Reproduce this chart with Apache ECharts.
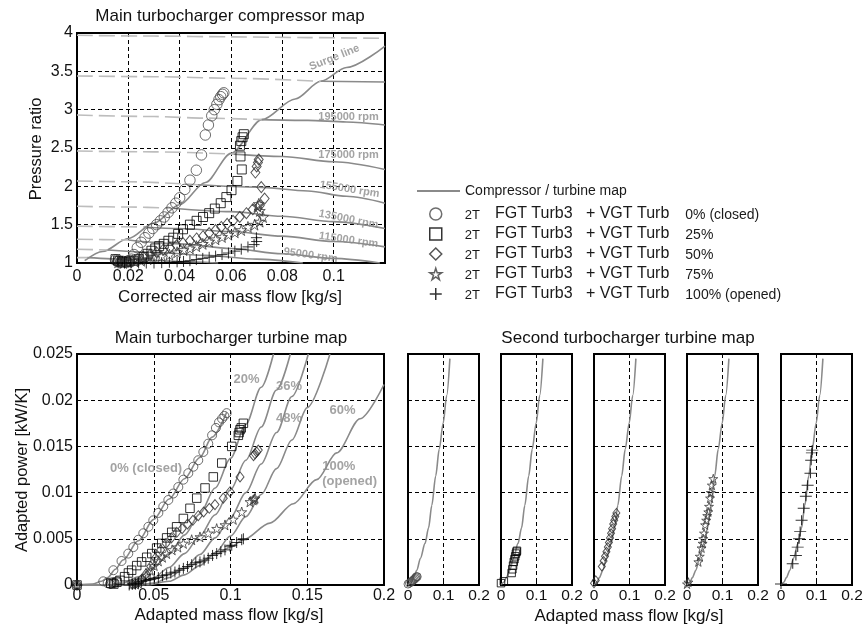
<!DOCTYPE html>
<html>
<head>
<meta charset="utf-8">
<script src="https://cdn.jsdelivr.net/npm/echarts@6/dist/echarts.min.js"></script>
<style>
  html, body { margin: 0; padding: 0; background: #fff; }
  #chart { width: 864px; height: 631px; }
</style>
</head>
<body>
<div id="chart"></div>
<script>
// ---------------- Compressor map: constant-speed lines [mass flow, pressure ratio] ----------------
const speedLine1  = [[0,3.97],[0.03,3.96],[0.06,3.95],[0.09,3.94],[0.12,3.93]];
const speedLine2  = [[0,3.44],[0.03,3.43],[0.06,3.41],[0.095,3.37],[0.12,3.36]];
const speedLine3  = [[0,2.93],[0.03,2.91],[0.05,2.89],[0.072,2.87],[0.09,2.86],[0.105,2.84],[0.12,2.80]];
const speedLine4  = [[0,2.46],[0.03,2.45],[0.061,2.42],[0.08,2.39],[0.1,2.32],[0.12,2.22]];
const speedLine5  = [[0,2.07],[0.02,2.06],[0.047,2.02],[0.07,1.99],[0.09,1.94],[0.105,1.87],[0.12,1.78]];
const speedLine6  = [[0,1.74],[0.02,1.73],[0.037,1.715],[0.06,1.67],[0.08,1.61],[0.1,1.54],[0.12,1.45]];
const speedLine7  = [[0,1.48],[0.026,1.47],[0.04,1.45],[0.06,1.41],[0.08,1.35],[0.1,1.28],[0.12,1.21]];
const speedLine8  = [[0,1.31],[0.02,1.30],[0.04,1.25],[0.06,1.19],[0.08,1.12],[0.1,1.06],[0.118,1.0]];
const speedLine9  = [[0,1.18],[0.012,1.17],[0.03,1.14],[0.05,1.10],[0.07,1.05],[0.088,1.0]];
const speedLine10 = [[0,1.07],[0.004,1.07],[0.02,1.05],[0.04,1.02],[0.055,1.0]];
const speedLines = [speedLine1, speedLine2, speedLine3, speedLine4, speedLine5,
                    speedLine6, speedLine7, speedLine8, speedLine9, speedLine10];
// mass flow where each speed line meets the surge line (left of it: unstable, drawn dashed)
const surgeCrossX = [0.12, 0.095, 0.072, 0.061, 0.047, 0.037, 0.026, 0.02, 0.012, 0.004];
const surgeLine = [[0.003,1.03],[0.01,1.15],[0.02,1.32],[0.03,1.52],[0.04,1.76],[0.05,2.05],
                   [0.06,2.43],[0.072,2.87],[0.085,3.14],[0.095,3.37],[0.105,3.55],[0.12,3.83]];
const rpmNames = ['Surge line', '195000 rpm', '175000 rpm', '155000 rpm', '135000 rpm', '115000 rpm', '95000 rpm'];

// ---------------- Compressor operating points per VGT opening ----------------
const compVgt0 = [[0.0150,1.04],[0.0160,1.02],[0.0170,1.01],[0.0180,1.02],[0.0190,1.01],[0.0200,1.03],[0.0212,1.05],
  [0.0222,1.11],[0.0235,1.20],[0.0250,1.27],[0.0265,1.33],[0.0280,1.39],[0.0295,1.45],[0.0310,1.50],[0.0325,1.55],
  [0.0340,1.60],[0.0355,1.66],[0.0370,1.72],[0.0385,1.78],[0.0400,1.85],[0.0420,1.96],[0.0440,2.08],[0.0465,2.21],
  [0.0485,2.41],[0.0500,2.67],[0.0512,2.80],[0.0525,2.92],[0.0535,3.00],[0.0545,3.07],[0.0553,3.13],[0.0560,3.17],
  [0.0567,3.20],[0.0572,3.22]];
const compVgt25 = [[0.0150,1.05],[0.0160,1.03],[0.0175,1.02],[0.0190,1.01],[0.0205,1.02],[0.0220,1.03],[0.0240,1.05],
  [0.0260,1.08],[0.0275,1.12],[0.0290,1.16],[0.0305,1.19],[0.0320,1.22],[0.0338,1.25],[0.0356,1.29],[0.0375,1.33],
  [0.0394,1.38],[0.0413,1.44],[0.0440,1.50],[0.0466,1.55],[0.0491,1.60],[0.0515,1.65],[0.0537,1.71],[0.0560,1.78],
  [0.0582,1.86],[0.0602,1.95],[0.0625,2.07],[0.0642,2.22],[0.0637,2.39],[0.0635,2.53],[0.0640,2.59],[0.0645,2.64],
  [0.0650,2.68]];
const compVgt50 = [[0.0155,1.02],[0.0170,1.01],[0.0185,1.01],[0.0200,1.02],[0.0215,1.03],[0.0235,1.05],[0.0258,1.08],
  [0.0285,1.11],[0.0310,1.14],[0.0335,1.17],[0.0362,1.20],[0.0388,1.23],[0.0413,1.26],[0.0440,1.29],[0.0466,1.32],
  [0.0491,1.35],[0.0515,1.39],[0.0540,1.43],[0.0562,1.47],[0.0585,1.51],[0.0608,1.55],[0.0634,1.60],[0.0660,1.65],
  [0.0685,1.70],[0.0712,1.75],[0.0731,1.84],[0.0718,1.99],[0.0695,2.18],[0.0700,2.26],[0.0705,2.31],[0.0708,2.35]];
const compVgt75 = [[0.0160,1.01],[0.0180,1.00],[0.0200,1.01],[0.0225,1.02],[0.0250,1.03],[0.0275,1.05],[0.0300,1.07],
  [0.0330,1.09],[0.0360,1.11],[0.0390,1.14],[0.0415,1.17],[0.0440,1.19],[0.0465,1.22],[0.0490,1.25],[0.0515,1.28],
  [0.0540,1.31],[0.0565,1.34],[0.0590,1.37],[0.0615,1.40],[0.0640,1.43],[0.0666,1.47],[0.0692,1.50],[0.0712,1.54],
  [0.0725,1.60],[0.0712,1.68],[0.0703,1.74],[0.0708,1.77]];
const compVgt100 = [[0.0160,1.00],[0.0185,1.00],[0.0210,1.00],[0.0240,1.00],[0.0270,1.00],[0.0300,1.00],[0.0330,1.005],
  [0.0360,1.01],[0.0390,1.015],[0.0415,1.02],[0.0440,1.03],[0.0465,1.045],[0.0490,1.06],[0.0515,1.075],[0.0540,1.09],
  [0.0565,1.11],[0.0590,1.13],[0.0615,1.155],[0.0640,1.18],[0.0666,1.21],[0.0690,1.24],[0.0700,1.28],[0.0699,1.33]];

// ---------------- Main turbine map: iso-opening curves [mass flow, power] ----------------
const turbMap0   = [[0,0],[0.010,0.0001],[0.016,0.0004],[0.020,0.0008],[0.025,0.0017],[0.030,0.0027],[0.040,0.0048],
  [0.050,0.0071],[0.060,0.0093],[0.070,0.0115],[0.080,0.0138],[0.088,0.0160],[0.0975,0.0187]];
const turbMap20  = [[0,0],[0.010,0],[0.020,0],[0.030,0.0002],[0.040,0.0009],[0.050,0.0019],[0.060,0.0034],[0.070,0.0054],
  [0.080,0.0077],[0.090,0.0105],[0.100,0.0137],[0.110,0.0174],[0.120,0.0214],[0.128,0.0250]];
const turbMap36  = [[0,0],[0.015,0],[0.030,0],[0.040,0.0002],[0.050,0.0008],[0.060,0.0019],[0.070,0.0034],[0.080,0.0053],
  [0.090,0.0076],[0.100,0.0103],[0.110,0.0135],[0.120,0.0171],[0.130,0.0211],[0.139,0.0250]];
const turbMap48  = [[0,0],[0.020,0],[0.040,0],[0.050,0.0002],[0.060,0.0008],[0.070,0.0018],[0.080,0.0033],[0.090,0.0051],
  [0.100,0.0073],[0.110,0.0100],[0.120,0.0131],[0.130,0.0165],[0.140,0.0204],[0.1507,0.0250]];
const turbMap60  = [[0,0],[0.020,0],[0.045,0],[0.060,0.0004],[0.070,0.0011],[0.080,0.0021],[0.090,0.0035],[0.100,0.0053],
  [0.110,0.0074],[0.120,0.0098],[0.130,0.0126],[0.140,0.0157],[0.150,0.0192],[0.1648,0.0250]];
const turbMap100 = [[0,0],[0.030,0],[0.040,0.0002],[0.050,0.0006],[0.0584,0.0011],[0.070,0.0018],[0.0801,0.0025],
  [0.090,0.0033],[0.100,0.0041],[0.1084,0.0049],[0.1257,0.0067],[0.141,0.0088],[0.1561,0.0114],[0.1692,0.0143],
  [0.1844,0.0180],[0.200,0.0217]];
const turbMapNames = ['0% (closed)', '20%', '36%', '48%', '60%', '100%\n(opened)'];

// ---------------- Main turbine operating points ----------------
const turbVgt0 = [[0,0],[0.0200,0.0002],[0.0215,0.0001],[0.0230,0.0003],[0.0245,0.0002],[0.0260,0.0004],[0.0171,0.0004],
  [0.0237,0.0016],[0.0290,0.0026],[0.0334,0.0034],[0.0367,0.0041],[0.0400,0.0049],[0.0432,0.0056],[0.0465,0.0063],
  [0.0497,0.0070],[0.0530,0.0078],[0.0562,0.0085],[0.0595,0.0092],[0.0627,0.0099],[0.0660,0.0106],[0.0693,0.0114],
  [0.0725,0.0121],[0.0758,0.0128],[0.0790,0.0135],[0.0823,0.0144],[0.0855,0.0153],[0.0880,0.0162],[0.0905,0.0170],
  [0.0925,0.0176],[0.0945,0.0180],[0.0960,0.0183],[0.0975,0.0186]];
const turbVgt25 = [[0,0],[0.0220,0.0002],[0.0240,0.0001],[0.0260,0.0003],[0.0280,0.0005],[0.0310,0.0009],[0.0335,0.0013],
  [0.0356,0.0016],[0.0389,0.0021],[0.0421,0.0025],[0.0454,0.0030],[0.0487,0.0034],[0.0519,0.0040],[0.0552,0.0045],
  [0.0584,0.0051],[0.0617,0.0057],[0.0649,0.0063],[0.0693,0.0072],[0.0736,0.0083],[0.0780,0.0094],[0.0834,0.0105],
  [0.0888,0.0117],[0.0943,0.0132],[0.1008,0.0150],[0.1051,0.0162],[0.1056,0.0165],[0.1062,0.0168],[0.1070,0.0170],
  [0.1084,0.0175]];
const turbVgt50 = [[0,0],[0.0360,0.0001],[0.0380,0.0002],[0.0400,0.0003],[0.0420,0.0006],[0.0450,0.0012],[0.0480,0.0020],
  [0.0510,0.0029],[0.0545,0.0038],[0.0580,0.0045],[0.0615,0.0051],[0.0650,0.0057],[0.0685,0.0061],[0.0720,0.0066],
  [0.0755,0.0070],[0.0790,0.0075],[0.0825,0.0079],[0.0862,0.0083],[0.0899,0.0087],[0.0953,0.0094],[0.0997,0.0101],
  [0.1062,0.0117],[0.1150,0.0140],[0.1160,0.0142],[0.1170,0.0144],[0.1181,0.0146]];
const turbVgt75 = [[0,0],[0.0360,0.0001],[0.0380,0.0001],[0.0400,0.0002],[0.0420,0.0005],[0.0450,0.0010],[0.0476,0.0016],
  [0.0503,0.0021],[0.0530,0.0026],[0.0557,0.0030],[0.0584,0.0034],[0.0620,0.0038],[0.0657,0.0041],[0.0693,0.0045],
  [0.0747,0.0049],[0.0801,0.0052],[0.0855,0.0056],[0.0910,0.0061],[0.0964,0.0065],[0.1018,0.0071],[0.1073,0.0079],
  [0.1127,0.0090],[0.1148,0.0092],[0.1155,0.0093],[0.1160,0.0094]];
const turbVgt100 = [[0,0],[0.0340,0.0000],[0.0360,0.0001],[0.0380,0.0001],[0.0400,0.0002],[0.0421,0.0004],[0.0448,0.0005],
  [0.0476,0.0006],[0.0503,0.0007],[0.0530,0.0008],[0.0557,0.0010],[0.0584,0.0011],[0.0611,0.0013],[0.0638,0.0014],
  [0.0666,0.0016],[0.0693,0.0018],[0.0720,0.0020],[0.0747,0.0022],[0.0774,0.0024],[0.0801,0.0025],[0.0828,0.0027],
  [0.0855,0.0029],[0.0883,0.0032],[0.0910,0.0034],[0.0937,0.0036],[0.0964,0.0038],[0.0997,0.0042],[0.1008,0.0043],
  [0.1040,0.0046],[0.1073,0.0049],[0.1084,0.0050]];

// ---------------- Second turbocharger: turbine map and operating points ----------------
const secondMap = [[0,0],[0.008,0.0003],[0.015,0.0008],[0.025,0.0016],[0.035,0.0029],[0.048,0.0045],[0.058,0.0062],
  [0.067,0.0086],[0.078,0.0118],[0.088,0.0147],[0.099,0.0175],[0.109,0.0205],[0.118,0.0245]];
const secVgt0 = [[0.000,0.0001],[0.004,0.0002],[0.008,0.0003],[0.011,0.0004],[0.014,0.0005],[0.017,0.0006],
  [0.020,0.0007],[0.022,0.0008],[0.024,0.0009],[0.026,0.0009]];
const secVgt25 = [[0.000,0.0002],[0.008,0.0004],[0.030,0.0013],[0.032,0.0017],[0.034,0.0021],[0.036,0.0025],
  [0.038,0.0028],[0.040,0.0031],[0.042,0.0034],[0.044,0.0036],[0.045,0.0037]];
const secVgt50 = [[0.000,0.0002],[0.005,0.0005],[0.022,0.0020],[0.027,0.0026],[0.031,0.0031],[0.035,0.0036],
  [0.039,0.0041],[0.042,0.0046],[0.045,0.0051],[0.048,0.0056],[0.051,0.0061],[0.054,0.0066],[0.057,0.0070],
  [0.060,0.0074],[0.063,0.0078]];
const secVgt75 = [[0.000,0.0001],[0.004,0.0003],[0.032,0.0025],[0.036,0.0031],[0.041,0.0040],[0.044,0.0045],
  [0.046,0.0050],[0.048,0.0056],[0.051,0.0065],[0.054,0.0070],[0.057,0.0075],[0.060,0.0079],[0.062,0.0085],
  [0.065,0.0094],[0.067,0.0100],[0.070,0.0108],[0.074,0.0115]];
const secVgt100 = [[0.000,0.0001],[0.033,0.0023],[0.042,0.0032],[0.047,0.0041],[0.051,0.0050],[0.054,0.0058],
  [0.058,0.0070],[0.064,0.0083],[0.070,0.0096],[0.075,0.0108],[0.083,0.0121],[0.085,0.0135],[0.087,0.0143],
  [0.088,0.0146]];

// ---------------- Names and tick settings ----------------
const mapLegendName = 'Compressor / turbine map';
const seriesNames = ['0% (closed)', '25%', '50%', '75%', '100% (opened)'];
const compXTicks = { min: 0, max: 0.12, interval: 0.02 };
const compYTicks = { min: 1, max: 4, interval: 0.5 };
const turbXTicks = { min: 0, max: 0.2, interval: 0.05 };
const powerTicks = { min: 0, max: 0.025, interval: 0.005 };
const panelXTicks = { min: 0, max: 0.2, interval: 0.1 };

// ---------------- Chart construction ----------------
const FONT = '"Liberation Sans", Arial, Helvetica, sans-serif';
const SOLID_GRAY = '#8a8a8a';
const DASH_GRAY = '#bdbdbd';
const LABEL_GRAY = '#8c8c8c';
const STAR = 'path://M50,0L61.2,34.6L97.6,34.5L68.1,55.9L79.4,90.5L50,69L20.6,90.5L31.9,55.9L2.4,34.5L38.8,34.6Z';
const CROSS = 'path://M0,50L100,50M50,0L50,100';

const chart = echarts.init(document.getElementById('chart'), null, { renderer: 'canvas' });

const panelLefts = [408, 501, 594, 687, 781];
const grids = [
  { left: 77, top: 33, width: 308, height: 230 },
  { left: 77, top: 354, width: 307, height: 231 }
].concat(panelLefts.map(l => ({ left: l, top: 354, width: 71, height: 231 })));
grids.forEach(g => Object.assign(g, {
  show: true, borderColor: '#000', borderWidth: 2, backgroundColor: '#fff',
  containLabel: false, outerBoundsMode: 'none'
}));

const tickText = v => String(parseFloat(v.toFixed(4)));

function axis(gridIndex, ticks, opts) {
  return Object.assign({
    type: 'value', gridIndex,
    min: ticks.min, max: ticks.max, interval: ticks.interval,
    axisLine: { show: true, onZero: false, lineStyle: { color: '#000', width: 2 } },
    axisTick: { show: true, inside: true, length: 4, lineStyle: { color: '#000', width: 1 } },
    splitLine: { show: true, lineStyle: { color: '#000', width: 1, type: [4, 3] } },
    axisLabel: { show: true, color: '#111', fontFamily: FONT, fontSize: 16, margin: 4, formatter: tickText,
                 showMinLabel: true, showMaxLabel: true, hideOverlap: false }
  }, opts || {});
}

const xAxes = [
  axis(0, compXTicks, { axisLabel: { color: '#111', fontFamily: FONT, fontSize: 16, margin: 6,
    formatter: v => (v > 0.11 ? '' : tickText(v)) } }),
  axis(1, turbXTicks, { axisLabel: { color: '#111', fontFamily: FONT, fontSize: 16, margin: 3, formatter: tickText } })
];
const yAxes = [
  axis(0, compYTicks),
  axis(1, powerTicks)
];
panelLefts.forEach((l, i) => {
  xAxes.push(axis(i + 2, panelXTicks, { axisLabel: { color: '#111', fontFamily: FONT, fontSize: 15.5, margin: 3, formatter: tickText } }));
  yAxes.push(axis(i + 2, powerTicks, { axisLabel: { show: false } }));
});

const series = [];

function mapLine(gi, data, dashed) {
  return {
    type: 'line', name: mapLegendName, xAxisIndex: gi, yAxisIndex: gi, data,
    symbol: 'none', smooth: 0.3, smoothMonotone: 'x', silent: true, z: 2,
    itemStyle: { color: SOLID_GRAY },
    lineStyle: { color: dashed ? DASH_GRAY : SOLID_GRAY, width: 1.6, type: dashed ? [16, 6] : 'solid' }
  };
}

// compressor map: surge line, then speed lines split at the surge line
series.push(mapLine(0, surgeLine, false));
speedLines.forEach((pts, i) => {
  const cx = surgeCrossX[i];
  const unstable = pts.filter(p => p[0] <= cx + 1e-9);
  const stable = pts.filter(p => p[0] >= cx - 1e-9);
  if (unstable.length > 1) series.push(mapLine(0, unstable, true));
  if (stable.length > 1) series.push(mapLine(0, stable, false));
});

// main turbine map curves
[turbMap0, turbMap20, turbMap36, turbMap48, turbMap60, turbMap100].forEach(c => series.push(mapLine(1, c, false)));
// second turbine map curve in each panel
panelLefts.forEach((l, i) => series.push(mapLine(i + 2, secondMap, false)));

// operating point markers
const markerDefs = [
  { symbol: 'circle', color: '#4a4a4a' },
  { symbol: 'rect', color: '#000' },
  { symbol: 'diamond', color: '#2a2a2a' },
  { symbol: STAR, color: '#3a3a3a' },
  { symbol: CROSS, color: '#000' }
];
const compSizes = [10.5, 9, [9, 11], 11, 11];
const turbSizes = [9, 8.5, [8, 10], 10, 11];
const secSizes = [8, 7.5, [7, 9], 9, [12, 10]];

function markerSeries(gi, k, data, size) {
  return {
    type: 'scatter', name: seriesNames[k], xAxisIndex: gi, yAxisIndex: gi, data,
    symbol: markerDefs[k].symbol, symbolSize: size, clip: false, silent: true, z: 5,
    itemStyle: { color: 'rgba(0,0,0,0)', borderColor: markerDefs[k].color, borderWidth: 1 }
  };
}
[compVgt0, compVgt25, compVgt50, compVgt75, compVgt100].forEach((d, k) => series.push(markerSeries(0, k, d, compSizes[k])));
[turbVgt0, turbVgt25, turbVgt50, turbVgt75, turbVgt100].forEach((d, k) => series.push(markerSeries(1, k, d, turbSizes[k])));
[secVgt0, secVgt25, secVgt50, secVgt75, secVgt100].forEach((d, k) => series.push(markerSeries(k + 2, k, d, secSizes[k])));

// annotations on the maps (anchored in data coordinates)
function annotation(gi, items, fontSize) {
  return {
    type: 'scatter', xAxisIndex: gi, yAxisIndex: gi, silent: true, z: 6, clip: false,
    symbolSize: 1, itemStyle: { color: 'rgba(0,0,0,0)' },
    data: items.map(it => ({
      value: it.at, name: it.text,
      label: Object.assign({ rotate: it.rot || 0 }, it.label || {})
    })),
    label: {
      show: true, position: 'inside', formatter: p => p.name,
      color: LABEL_GRAY, fontFamily: FONT, fontWeight: 'bold', fontSize, lineHeight: 15
    }
  };
}
series.push(annotation(0, [
  { text: rpmNames[0], at: [0.1003, 3.68], rot: 22 },
  { text: rpmNames[1], at: [0.1058, 2.91] },
  { text: rpmNames[2], at: [0.1058, 2.41] },
  { text: rpmNames[3], at: [0.1062, 1.96], rot: -9 },
  { text: rpmNames[4], at: [0.1058, 1.57], rot: -11 },
  { text: rpmNames[5], at: [0.1058, 1.30], rot: -8 },
  { text: rpmNames[6], at: [0.0910, 1.10], rot: -8 }
], 11));
series.push(annotation(1, [
  { text: turbMapNames[0], at: [0.045, 0.01263] },
  { text: turbMapNames[1], at: [0.1105, 0.0222] },
  { text: turbMapNames[2], at: [0.1381, 0.0215] },
  { text: turbMapNames[3], at: [0.1381, 0.0180] },
  { text: turbMapNames[4], at: [0.173, 0.0189] },
  { text: turbMapNames[5], at: [0.1594, 0.0120], label: { position: 'right', distance: 0, align: 'left' } }
], 13));

// titles and axis names
const texts = [
  { t: 'Main turbocharger compressor map', x: 230, y: 16, size: 17 },
  { t: 'Corrected air mass flow [kg/s]', x: 230, y: 297, size: 17 },
  { t: 'Pressure ratio', x: 36, y: 149, size: 16.5, rot: true },
  { t: 'Main turbocharger turbine map', x: 231, y: 338, size: 17 },
  { t: 'Adapted mass flow [kg/s]', x: 229, y: 615, size: 17 },
  { t: 'Adapted power [kW/K]', x: 22, y: 470, size: 16.5, rot: true },
  { t: 'Second turbocharger turbine map', x: 628, y: 338, size: 17 },
  { t: 'Adapted mass flow [kg/s]', x: 629, y: 616, size: 17 }
];
const graphic = texts.map(o => ({
  type: 'text', x: o.x, y: o.y, rotation: o.rot ? Math.PI / 2 : 0, silent: true,
  style: { text: o.t, fill: '#111', font: `${o.size}px ${FONT}`, align: 'center', verticalAlign: 'middle' }
}));

const option = {
  animation: false,
  backgroundColor: '#fff',
  grid: grids,
  xAxis: xAxes,
  yAxis: yAxes,
  legend: [
    {
      data: [{ name: mapLegendName, icon: 'rect', itemStyle: { color: SOLID_GRAY } }],
      left: 417, top: 184, padding: 0, itemWidth: 43, itemHeight: 2,
      selectedMode: false,
      textStyle: { fontFamily: FONT, fontSize: 14, color: '#1a1a1a' }
    },
    {
      data: seriesNames, orient: 'vertical', left: 429, top: 206, padding: 0,
      itemWidth: 12, itemHeight: 12, itemGap: 4,
      selectedMode: false,
      itemStyle: { borderWidth: 1.5 },
      formatter: name => `{a|2T}{b|FGT Turb3   + VGT Turb}{c|${name}}`,
      textStyle: {
        fontFamily: FONT, color: '#1a1a1a', lineHeight: 16,
        rich: {
          a: { fontFamily: FONT, fontSize: 13, color: '#1a1a1a', lineHeight: 16, padding: [0, 15, 0, 18], verticalAlign: 'bottom' },
          b: { fontFamily: FONT, fontSize: 16, color: '#1a1a1a', lineHeight: 16, verticalAlign: 'bottom' },
          c: { fontFamily: FONT, fontSize: 14, color: '#1a1a1a', lineHeight: 16, padding: [0, 0, 0, 16], verticalAlign: 'bottom' }
        }
      }
    }
  ],
  graphic,
  series
};
chart.setOption(option);
</script>
</body>
</html>
